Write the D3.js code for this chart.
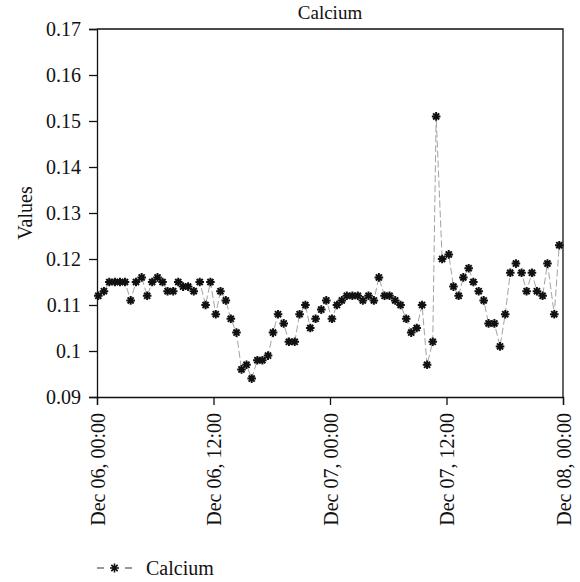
<!DOCTYPE html>
<html>
<head>
<meta charset="utf-8">
<script src="https://cdn.jsdelivr.net/npm/d3@7"></script>
<style>
	body { margin: 0; background: #fff; }
	svg text { font-family: "Liberation Serif", "Times New Roman", serif; fill: #111; }
</style>
</head>
<body>
<svg id="chart" width="580" height="582"></svg>
<script>
// sample times (month-day hour:minute) and calcium values
var times = [
	"12-06 00:08", "12-06 00:43", "12-06 01:16", "12-06 01:51", "12-06 02:22", "12-06 02:53",
	"12-06 03:28", "12-06 04:01", "12-06 04:36", "12-06 05:10", "12-06 05:41", "12-06 06:14",
	"12-06 06:45", "12-06 07:16", "12-06 07:51", "12-06 08:22", "12-06 08:52", "12-06 09:23",
	"12-06 09:58", "12-06 10:35", "12-06 11:11", "12-06 11:41", "12-06 12:14", "12-06 12:43",
	"12-06 13:16", "12-06 13:47", "12-06 14:22", "12-06 14:53", "12-06 15:24", "12-06 15:56",
	"12-06 16:31", "12-06 17:02", "12-06 17:37", "12-06 18:08", "12-06 18:39", "12-06 19:14",
	"12-06 19:46", "12-06 20:22", "12-06 20:52", "12-06 21:28", "12-06 21:58", "12-06 22:31",
	"12-06 23:06", "12-06 23:37", "12-07 00:12", "12-07 00:43", "12-07 01:13", "12-07 01:44",
	"12-07 02:18", "12-07 02:52", "12-07 03:23", "12-07 03:58", "12-07 04:31", "12-07 05:02",
	"12-07 05:37", "12-07 06:08", "12-07 06:43", "12-07 07:16", "12-07 07:51", "12-07 08:22",
	"12-07 08:56", "12-07 09:29", "12-07 10:00", "12-07 10:35", "12-07 10:56", "12-07 11:33",
	"12-07 12:14", "12-07 12:43", "12-07 13:15", "12-07 13:44", "12-07 14:17", "12-07 14:46",
	"12-07 15:19", "12-07 15:50", "12-07 16:20", "12-07 16:56", "12-07 17:31", "12-07 18:03",
	"12-07 18:34", "12-07 19:09", "12-07 19:44", "12-07 20:15", "12-07 20:48", "12-07 21:19",
	"12-07 21:54", "12-07 22:24", "12-07 23:06", "12-07 23:37"
];
var calcium = [
	0.112, 0.113, 0.115, 0.115, 0.115, 0.115,
	0.111, 0.115, 0.116, 0.112, 0.115, 0.116,
	0.115, 0.113, 0.113, 0.115, 0.114, 0.114,
	0.113, 0.115, 0.110, 0.115, 0.108, 0.113,
	0.111, 0.107, 0.104, 0.096, 0.097, 0.094,
	0.098, 0.098, 0.099, 0.104, 0.108, 0.106,
	0.102, 0.102, 0.108, 0.110, 0.105, 0.107,
	0.109, 0.111, 0.107, 0.110, 0.111, 0.112,
	0.112, 0.112, 0.111, 0.112, 0.111, 0.116,
	0.112, 0.112, 0.111, 0.110, 0.107, 0.104,
	0.105, 0.110, 0.097, 0.102, 0.151, 0.120,
	0.121, 0.114, 0.112, 0.116, 0.118, 0.115,
	0.113, 0.111, 0.106, 0.106, 0.101, 0.108,
	0.117, 0.119, 0.117, 0.113, 0.117, 0.113,
	0.112, 0.119, 0.108, 0.123
];
var xTicks = ["12-06 00:00", "12-06 12:00", "12-07 00:00", "12-07 12:00", "12-08 00:00"];
var yTicks = [0.09, 0.10, 0.11, 0.12, 0.13, 0.14, 0.15, 0.16, 0.17];
var seriesName = "Calcium";

var margin = { top: 29, right: 17, bottom: 185, left: 97 };
var svg = d3.select("#chart");
var innerWidth = 580 - margin.left - margin.right;
var innerHeight = 582 - margin.top - margin.bottom;

var parseTime = d3.timeParse("%m-%d %H:%M");
var data = times.map(function (t, i) {
	return { date: parseTime(t), value: calcium[i] };
});

var x = d3.scaleTime()
	.domain([parseTime(xTicks[0]), parseTime(xTicks[xTicks.length - 1])])
	.range([0, innerWidth]);
var y = d3.scaleLinear()
	.domain([yTicks[0], yTicks[yTicks.length - 1]])
	.range([innerHeight, 0]);

var g = svg.append("g").attr("transform", `translate(${margin.left},${margin.top})`);

// asterisk marker: plus and cross
function asterisk(r) {
	var d = r * Math.SQRT1_2;
	return `M${-r},0L${r},0M0,${-r}L0,${r}M${-d},${-d}L${d},${d}M${-d},${d}L${d},${-d}`;
}

var line = d3.line()
	.x(d => x(d.date))
	.y(d => y(d.value));

g.append("path")
	.datum(data)
	.attr("d", line)
	.style("fill", "none")
	.style("stroke", "#a3a3a3")
	.style("stroke-width", 1)
	.style("stroke-dasharray", "7,3");

g.selectAll(".marker")
	.data(data)
	.enter()
	.append("path")
	.attr("class", "marker")
	.attr("transform", d => `translate(${x(d.date)},${y(d.value)})`)
	.attr("d", asterisk(4.3))
	.style("fill", "none")
	.style("stroke", "#111")
	.style("stroke-width", 2);

// axes
var xAxis = g.append("g")
	.attr("transform", `translate(0,${innerHeight})`)
	.call(d3.axisBottom(x)
		.tickValues(xTicks.map(parseTime))
		.tickSize(8)
		.tickFormat(d3.timeFormat("%b %d, %H:%M")));
xAxis.selectAll("text")
	.attr("transform", "rotate(-90)")
	.attr("x", -16)
	.attr("y", 0)
	.attr("dy", "0.35em")
	.style("text-anchor", "end")
	.style("font-size", "20px");

var yAxis = g.append("g")
	.call(d3.axisLeft(y)
		.tickValues(yTicks)
		.tickSize(8)
		.tickPadding(8)
		.tickFormat(d => String(d)));
yAxis.selectAll("text").style("font-size", "20px");

[xAxis, yAxis].forEach(function (a) {
	a.selectAll("path, line").style("stroke", "#111").style("stroke-width", 1.3);
});

// top and right border of the plot box
g.append("path")
	.attr("d", `M0,0H${innerWidth}V${innerHeight}`)
	.style("fill", "none")
	.style("stroke", "#111")
	.style("stroke-width", 1.3);

svg.append("text")
	.attr("x", margin.left + innerWidth / 2)
	.attr("y", 19)
	.style("text-anchor", "middle")
	.style("font-size", "19px")
	.text(seriesName);

svg.append("text")
	.attr("transform", `translate(32,${margin.top + innerHeight / 2}) rotate(-90)`)
	.style("text-anchor", "middle")
	.style("font-size", "20px")
	.text("Values");

// legend
var legend = svg.append("g").attr("transform", "translate(97,568)");
legend.append("line")
	.attr("x1", 0)
	.attr("x2", 35)
	.style("stroke", "#333")
	.style("stroke-width", 1.2)
	.style("stroke-dasharray", "7,21,7");
legend.append("path")
	.attr("transform", "translate(17.5,0)")
	.attr("d", asterisk(4.5))
	.style("fill", "none")
	.style("stroke", "#111")
	.style("stroke-width", 1.6);
legend.append("text")
	.attr("x", 49)
	.attr("y", 7)
	.style("font-size", "20px")
	.text(seriesName);
</script>
</body>
</html>
